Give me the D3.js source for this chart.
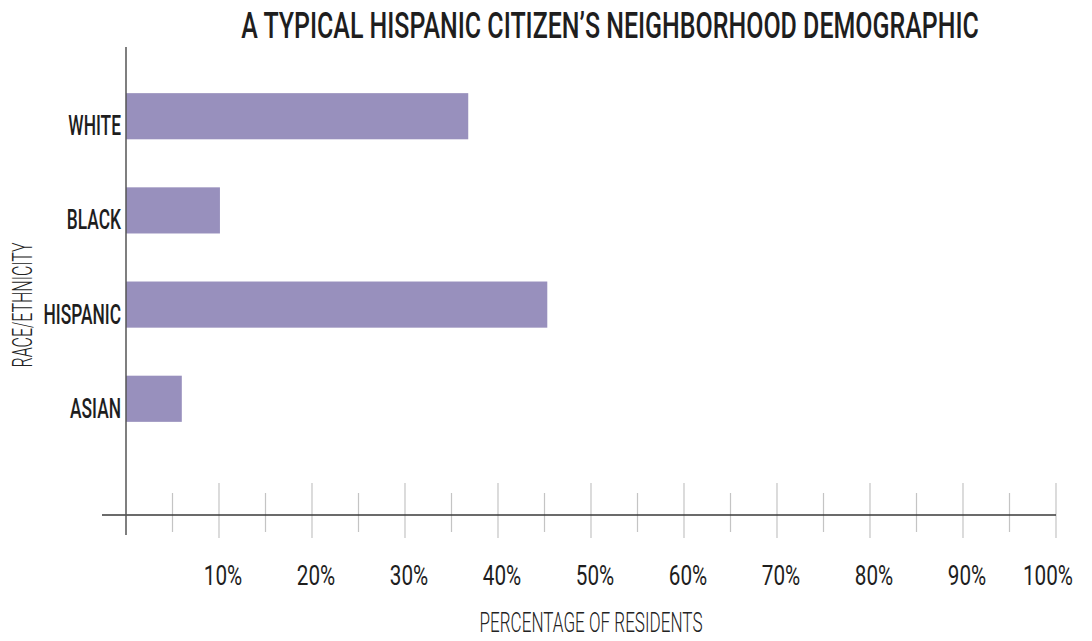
<!DOCTYPE html>
<html>
<head>
<meta charset="utf-8">
<script src="https://cdn.jsdelivr.net/npm/d3@7"></script>
<style>
  body { margin: 0; background: #fff; }
  text { font-family: "Roboto", "Liberation Sans", sans-serif; fill: #1e1e1e; }
</style>
</head>
<body>
<div id="chart"></div>
<script>
const categories = ["WHITE", "BLACK", "HISPANIC", "ASIAN"]
const values = [36.8, 10.1, 45.3, 6.0]
const majorTicks = [10, 20, 30, 40, 50, 60, 70, 80, 90, 100]
const minorTicks = [5, 15, 25, 35, 45, 55, 65, 75, 85, 95]

const width = 1092, height = 641
const x0 = 126, xAxisY = 515

const svg = d3.select('#chart')
    .append('svg')
    .attr('width', width)
    .attr('height', height)

const x = d3.scaleLinear().domain([0, 100]).range([x0, 1056])
const y = d3.scaleBand().domain(categories).range([47, 468])
    .paddingInner(0.51).paddingOuter(0.49)

// condensed look: text sits at (px, py) and is squeezed horizontally by k
function place(px, py, k, rot) {
    return `translate(${px},${py})` + (rot ? ` rotate(${rot})` : '') + ` scale(${k},1)`
}

// bars
svg.selectAll('rect.bar')
    .data(values)
    .enter().append('rect')
    .attr('class', 'bar')
    .attr('x', x(0))
    .attr('y', (d, i) => y(categories[i]))
    .attr('width', d => x(d) - x(0))
    .attr('height', y.bandwidth())
    .attr('fill', '#9890bd')

// minor / major ticks
svg.selectAll('line.minor')
    .data(minorTicks)
    .enter().append('line')
    .attr('x1', d => x(d)).attr('x2', d => x(d))
    .attr('y1', xAxisY - 22).attr('y2', xAxisY + 17)
    .attr('stroke', '#c4c4c4').attr('stroke-width', 1.2)

svg.selectAll('line.major')
    .data(majorTicks)
    .enter().append('line')
    .attr('x1', d => x(d)).attr('x2', d => x(d))
    .attr('y1', xAxisY - 32).attr('y2', xAxisY + 23)
    .attr('stroke', '#c4c4c4').attr('stroke-width', 1.2)

// axes
svg.append('line')
    .attr('x1', 102).attr('x2', x(100))
    .attr('y1', xAxisY).attr('y2', xAxisY)
    .attr('stroke', '#3a3a3a').attr('stroke-width', 1.5)

svg.append('line')
    .attr('x1', x0).attr('x2', x0)
    .attr('y1', 47).attr('y2', xAxisY + 20)
    .attr('stroke', '#555').attr('stroke-width', 1.5)

// tick labels
svg.selectAll('text.tick')
    .data(majorTicks)
    .enter().append('text')
    .attr('class', 'tick')
    .attr('transform', d => place(x(d) + (d === 100 ? -8 : 4), 585, 0.74))
    .attr('text-anchor', 'middle')
    .style('font-size', '28px')
    .text(d => d + '%')

// category labels
svg.selectAll('text.cat')
    .data(categories)
    .enter().append('text')
    .attr('class', 'cat')
    .attr('transform', d => place(121, y(d) + y.bandwidth() / 2 + 19, 0.62))
    .attr('text-anchor', 'end')
    .style('font-size', '28px')
    .style('font-weight', 500)
    .text(d => d)

// title
svg.append('text')
    .attr('transform', place(610, 38, 0.675))
    .attr('text-anchor', 'middle')
    .style('font-size', '37px')
    .style('font-weight', 500)
    .text('A TYPICAL HISPANIC CITIZEN\u2019S NEIGHBORHOOD DEMOGRAPHIC')

// axis titles
svg.append('text')
    .attr('transform', place(x(50), 632, 0.61))
    .attr('text-anchor', 'middle')
    .style('font-size', '28px')
    .style('font-weight', 300)
    .style('fill', '#222')
    .text('PERCENTAGE OF RESIDENTS')

svg.append('text')
    .attr('transform', place(32, 305, 0.57, -90))
    .attr('text-anchor', 'middle')
    .style('font-size', '28px')
    .style('font-weight', 300)
    .style('fill', '#222')
    .text('RACE/ETHNICITY')
</script>
</body>
</html>
